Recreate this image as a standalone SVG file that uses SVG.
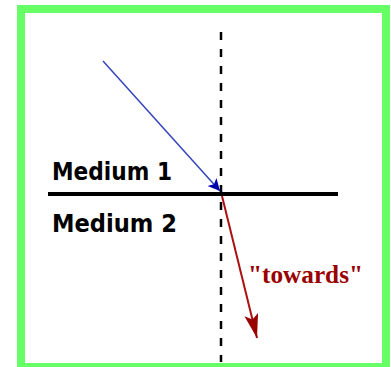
<svg xmlns="http://www.w3.org/2000/svg" width="391" height="367" viewBox="0 0 391 367">
<style>
.lbl{font-family:"DejaVu Sans","Liberation Sans",sans-serif;font-weight:bold;font-size:24px;fill:#000}
.tw{font-family:"Liberation Serif","DejaVu Serif",serif;font-weight:bold;font-size:25px;fill:#990000}
</style>
<defs>
<marker id="ab" markerUnits="userSpaceOnUse" markerWidth="14" markerHeight="14" refX="12" refY="6" orient="auto" viewBox="0 0 14 12">
<path d="M0,0 L12,6 L0,12 L3,6 Z" fill="#0000aa"/>
</marker>
<marker id="ar" markerUnits="userSpaceOnUse" markerWidth="26" markerHeight="16" refX="24" refY="7" orient="auto" viewBox="0 0 26 14">
<path d="M0,0 L24,7 L0,14 L5,7 Z" fill="#990000"/>
</marker>
</defs>
<rect x="0" y="0" width="391" height="367" fill="#fff"/>
<rect x="21" y="9" width="365" height="358" fill="#fff" stroke="#66ff66" stroke-width="8"/>
<g id="connectors">
<line id="normal" x1="221" y1="32" x2="221" y2="362" stroke="#000" stroke-width="2.5" stroke-dasharray="8 9"/>
<line id="boundary" x1="48" y1="194" x2="338" y2="194" stroke="#000" stroke-width="4"/>
<line id="incident" x1="103" y1="61" x2="220" y2="191" stroke="#3344bb" stroke-width="1.5" marker-end="url(#ab)"/>
<line id="refracted" x1="222" y1="196" x2="257" y2="338" stroke="#aa1111" stroke-width="2" marker-end="url(#ar)"/>
</g>
<g id="medium1"><text class="lbl" x="52" y="180" textLength="120" lengthAdjust="spacingAndGlyphs">Medium 1</text></g>
<g id="medium2"><text class="lbl" x="52" y="232" textLength="125" lengthAdjust="spacingAndGlyphs">Medium 2</text></g>
<g id="towards"><text class="tw" x="248" y="283" textLength="115" lengthAdjust="spacingAndGlyphs">"towards"</text></g>
</svg>
